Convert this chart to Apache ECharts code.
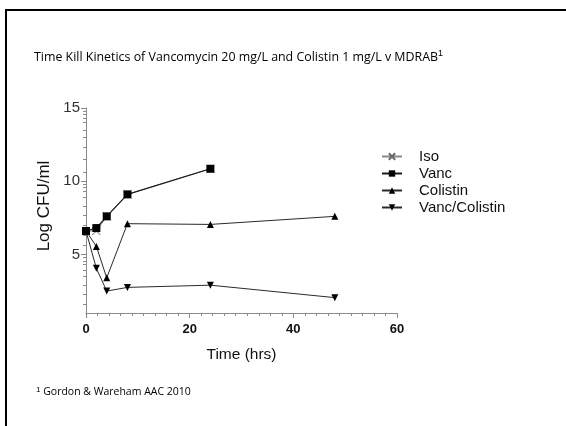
<!DOCTYPE html>
<html>
<head>
<meta charset="utf-8">
<script src="https://cdn.jsdelivr.net/npm/echarts@6/dist/echarts.min.js"></script>
<style>
  html, body { margin: 0; padding: 0; background: #fff; }
  #chart { width: 566px; height: 426px; }
</style>
</head>
<body>
<div id="chart"></div>
<script>
// time points (hrs)
var hours = [0, 2, 4, 8, 24, 48];

// log CFU/ml per arm
var isoValues = [6.6, 6.6, 7.6, 9.1, 10.85];
var vancValues = [6.6, 6.8, 7.6, 9.1, 10.85];
var colistinValues = [6.6, 5.55, 3.4, 7.1, 7.05, 7.6];
var comboValues = [6.6, 4.05, 2.5, 2.75, 2.9, 2.05];

// axis ticks
var yLabels = [5, 10, 15];
var yMinorTicks = [1.6, 2.3, 2.9, 3.5, 3.9, 4.3, 4.55, 4.8,
  5.6, 6.3, 7.0, 7.7, 8.3, 8.9, 9.3, 9.6, 9.8,
  10.6, 11.5, 12.3, 13.0, 13.5, 14.0, 14.3, 14.55, 14.8];

function pairs(vals) {
  var out = [];
  for (var i = 0; i < vals.length; i++) {
    out.push([hours[i], vals[i]]);
  }
  return out;
}

var chart = echarts.init(document.getElementById('chart'));

var lineStyle = { color: '#2a2a2a', width: 1 };

var option = {
  animation: false,
  backgroundColor: '#fff',
  textStyle: { fontFamily: 'Liberation Sans, Arial, sans-serif' },
  graphic: [
    // slide frame (top and left edge)
    { type: 'line', shape: { x1: 5, y1: 10, x2: 566, y2: 10 }, style: { stroke: '#000', lineWidth: 2 } },
    { type: 'line', shape: { x1: 6, y1: 10, x2: 6, y2: 426 }, style: { stroke: '#000', lineWidth: 2 } },
    {
      type: 'text', left: 34, top: 49,
      style: {
        text: 'Time Kill Kinetics of Vancomycin 20 mg/L and Colistin 1 mg/L v MDRAB{sup|1}',
        font: '12.4px "Open Sans", "Liberation Sans", sans-serif',
        fill: '#000',
        rich: { sup: { fontSize: 9, verticalAlign: 'top', padding: [0, 0, 7, 0] } }
      }
    },
    {
      type: 'text', left: 36, top: 386,
      style: {
        text: '{sup|1} Gordon & Wareham AAC 2010',
        font: '10.5px "Open Sans", "Liberation Sans", sans-serif',
        fill: '#000',
        rich: { sup: { fontSize: 8, padding: [0, 0, 5, 0] } }
      }
    }
  ],
  grid: { left: 86, right: 169, top: 108, bottom: 113, containLabel: false },
  legend: {
    orient: 'vertical',
    left: 376,
    top: 144,
    itemWidth: 20,
    itemHeight: 8,
    itemGap: 2,
    textStyle: { fontSize: 15, color: '#111', padding: [0, 0, 0, 12] },
    data: ['Iso', 'Vanc', 'Colistin', 'Vanc/Colistin']
  },
  xAxis: {
    type: 'value',
    min: 0,
    max: 60,
    interval: 20,
    name: 'Time (hrs)',
    nameLocation: 'middle',
    nameGap: 34,
    nameTextStyle: { fontSize: 15.5, color: '#111' },
    splitLine: { show: false },
    axisLine: { lineStyle: { color: '#8a8a8a' } },
    axisTick: { length: 5, lineStyle: { color: '#8a8a8a' } },
    minorTick: { show: true, splitNumber: 9, length: 3, lineStyle: { color: '#8a8a8a' } },
    axisLabel: { fontSize: 13, fontWeight: 'bold', color: '#111', margin: 10 }
  },
  yAxis: [{
    type: 'value',
    min: 1,
    max: 15,
    name: 'Log CFU/ml',
    nameLocation: 'middle',
    nameGap: 30,
    nameTextStyle: { fontSize: 17, color: '#111', padding: [0, 0, 0, 9] },
    splitLine: { show: false },
    axisLine: { show: true, lineStyle: { color: '#8a8a8a' } },
    axisTick: { show: true, length: 5, customValues: yLabels, lineStyle: { color: '#8a8a8a' } },
    axisLabel: { fontSize: 15, color: '#333', margin: 6, customValues: yLabels }
  }, {
    type: 'value',
    min: 1,
    max: 15,
    position: 'left',
    splitLine: { show: false },
    axisLine: { show: false },
    axisTick: { show: true, length: 3, customValues: yMinorTicks, lineStyle: { color: '#8a8a8a' } },
    axisLabel: { show: false }
  }],
  series: [{
    name: 'Iso',
    type: 'line',
    data: pairs(isoValues),
    symbol: 'path://M0,0L10,10M10,0L0,10',
    symbolSize: 8,
    itemStyle: { color: '#666', borderColor: '#666', borderWidth: 1 },
    lineStyle: { color: '#888', width: 1 }
  }, {
    name: 'Vanc',
    type: 'line',
    data: pairs(vancValues),
    symbol: 'rect',
    symbolSize: 8,
    itemStyle: { color: '#000' },
    lineStyle: { color: '#1a1a1a', width: 1.2 }
  }, {
    name: 'Colistin',
    type: 'line',
    data: pairs(colistinValues),
    symbol: 'triangle',
    symbolSize: 7,
    itemStyle: { color: '#000' },
    lineStyle: lineStyle
  }, {
    name: 'Vanc/Colistin',
    type: 'line',
    data: pairs(comboValues),
    symbol: 'triangle',
    symbolRotate: 180,
    symbolSize: 7,
    itemStyle: { color: '#000' },
    lineStyle: lineStyle
  }]
};

chart.setOption(option);
</script>
</body>
</html>
